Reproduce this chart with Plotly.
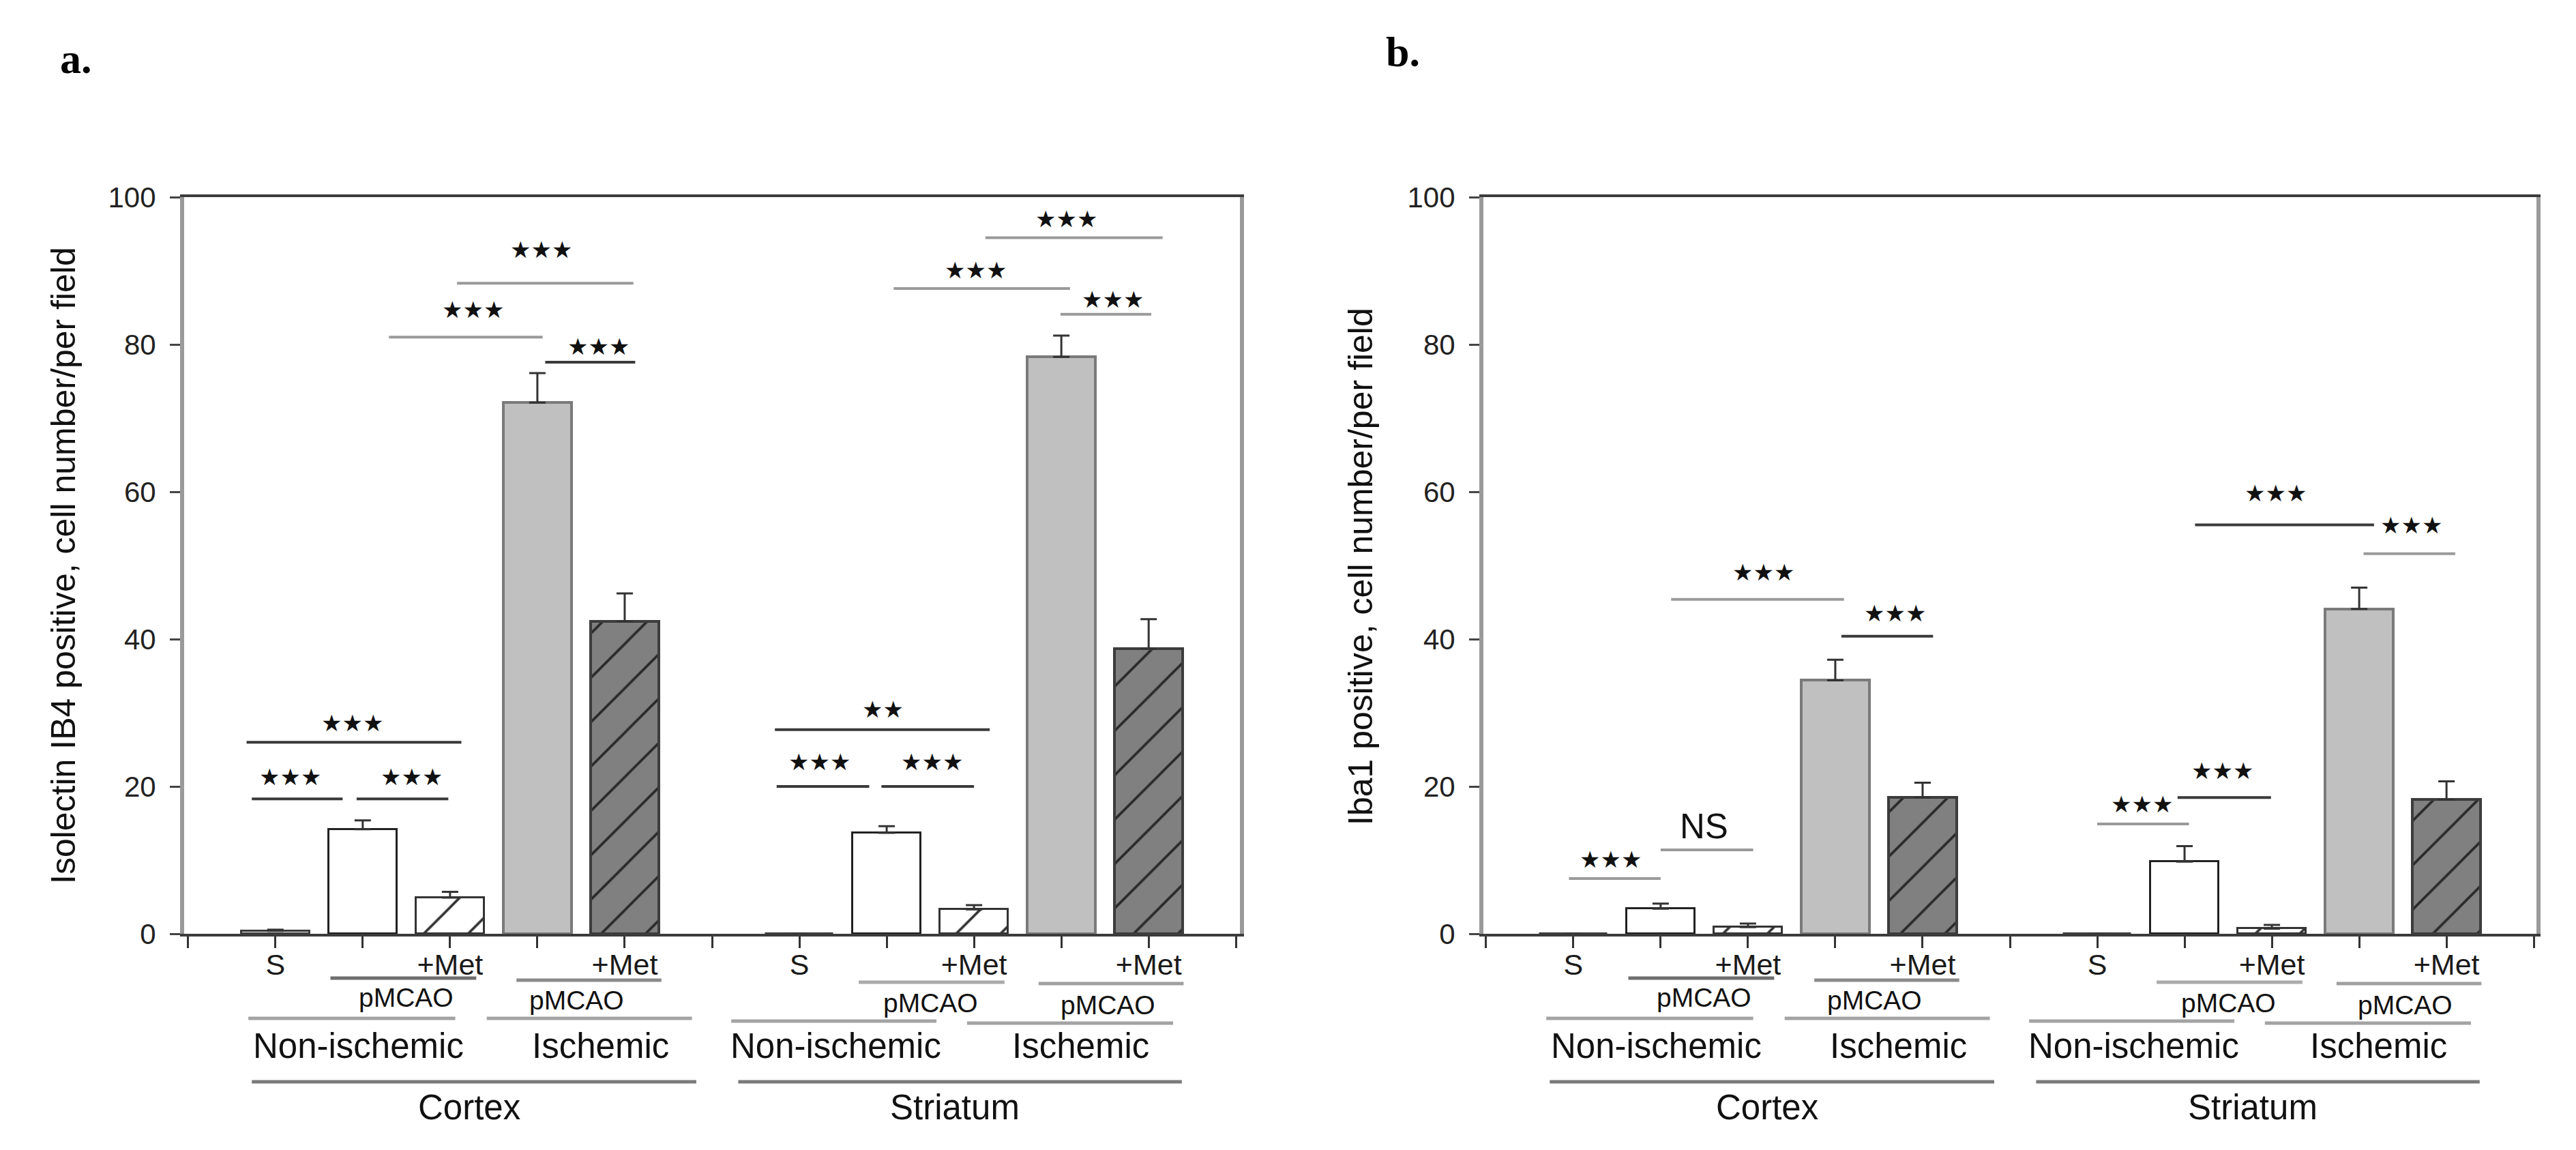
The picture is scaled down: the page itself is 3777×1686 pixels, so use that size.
import plotly.graph_objects as go

W, H = 3777, 1686
OFF = 8  # page offset of the rendered figure (body margin)

# ---------------- data ----------------
conditions = ["S", "pMCAO", "pMCAO+Met", "Ischemic pMCAO", "Ischemic pMCAO+Met"]
# x positions: cortex / striatum for each condition
cond_x = {
    "S": [0, 6],
    "pMCAO": [1, 7],
    "pMCAO+Met": [2, 8],
    "Ischemic pMCAO": [3, 9],
    "Ischemic pMCAO+Met": [4, 10],
}
# panel a: Isolectin IB4 (cortex, striatum)
ib4_mean = {
    "S": [0.4, 0.0],
    "pMCAO": [14.2, 13.7],
    "pMCAO+Met": [4.9, 3.3],
    "Ischemic pMCAO": [72.1, 78.3],
    "Ischemic pMCAO+Met": [42.4, 38.7],
}
ib4_sem = {
    "S": [0.15, 0.0],
    "pMCAO": [1.2, 0.9],
    "pMCAO+Met": [0.8, 0.6],
    "Ischemic pMCAO": [4.0, 2.9],
    "Ischemic pMCAO+Met": [3.8, 4.0],
}
# panel b: Iba1 (cortex, striatum)
iba1_mean = {
    "S": [0.0, 0.0],
    "pMCAO": [3.4, 9.8],
    "pMCAO+Met": [0.9, 0.7],
    "Ischemic pMCAO": [34.4, 44.1],
    "Ischemic pMCAO+Met": [18.5, 18.2],
}
iba1_sem = {
    "S": [0.0, 0.0],
    "pMCAO": [0.7, 2.1],
    "pMCAO+Met": [0.5, 0.5],
    "Ischemic pMCAO": [2.8, 2.9],
    "Ischemic pMCAO+Met": [2.0, 2.5],
}

tick_vals = list(range(-1, 12))
tick_text = ["", "S", "", "+Met", "", "+Met", "", "S", "", "+Met", "", "+Met", ""]

# significance brackets: (x0, x1, line_y, label, text_x, text_y, dark?)
ib4_brackets = [
    (-0.27, 0.77, 18.3, "***", 0.17, 21.3, True),
    (0.93, 1.98, 18.3, "***", 1.56, 21.3, True),
    (-0.33, 2.13, 26.0, "***", 0.88, 28.6, True),
    (1.30, 3.06, 81.0, "***", 2.26, 84.7, False),
    (2.08, 4.10, 88.3, "***", 3.04, 92.9, False),
    (3.09, 4.12, 77.6, "***", 3.70, 79.7, True),
    (5.74, 6.80, 20.0, "***", 6.23, 23.3, True),
    (6.94, 8.00, 20.0, "***", 7.52, 23.3, True),
    (5.72, 8.18, 27.7, "**", 6.96, 30.5, True),
    (7.08, 9.10, 87.6, "***", 8.02, 90.1, False),
    (8.13, 10.16, 94.5, "***", 9.06, 97.0, False),
    (8.99, 10.03, 84.1, "***", 9.59, 86.1, False),
]
iba1_brackets = [
    (-0.05, 1.00, 7.5, "***", 0.43, 10.1, False),
    (1.00, 2.06, 11.4, "NS", 1.50, 14.6, False),
    (1.12, 3.10, 45.4, "***", 2.18, 49.1, False),
    (3.07, 4.12, 40.4, "***", 3.68, 43.5, True),
    (6.00, 7.05, 14.9, "***", 6.51, 17.6, False),
    (6.92, 7.99, 18.5, "***", 7.43, 22.1, True),
    (7.12, 9.17, 55.5, "***", 8.04, 59.8, True),
    (9.05, 10.10, 51.6, "***", 9.60, 55.5, False),
]

# group labels below axis: (x0, x1, line_y_px, text, text_x, text_y_px, size, line colour)
group_lines = [
    (0.63, 2.30, 1434, "pMCAO", 1.50, 1462, 39, "#6e6e6e"),
    (2.76, 4.42, 1437, "pMCAO", 3.45, 1466, 39, "#8a8a8a"),
    (6.68, 8.35, 1440, "pMCAO", 7.50, 1470, 39, "#ababab"),
    (8.74, 10.40, 1442, "pMCAO", 9.53, 1473, 39, "#a0a0a0"),
    (-0.31, 2.06, 1493, "Non-ischemic", 0.95, 1533, 51, "#a3a3a3"),
    (2.42, 4.77, 1493, "Ischemic", 3.72, 1533, 51, "#a3a3a3"),
    (5.22, 7.57, 1497, "Non-ischemic", 6.42, 1533, 51, "#a3a3a3"),
    (7.92, 10.28, 1500, "Ischemic", 9.22, 1533, 51, "#a3a3a3"),
    (-0.27, 4.82, 1586, "Cortex", 2.22, 1623, 51, "#7a7a7a"),
    (5.30, 10.38, 1586, "Striatum", 7.78, 1623, 51, "#7a7a7a"),
]

styles = {
    "S": dict(color="#ffffff", line=dict(color="#3a3a3a", width=3)),
    "pMCAO": dict(color="#ffffff", line=dict(color="#222222", width=3)),
    "pMCAO+Met": dict(color="#ffffff", line=dict(color="#333333", width=3),
                      pattern=dict(shape="/", fgcolor="#333333", bgcolor="#ffffff",
                                   size=46, solidity=0.08)),
    "Ischemic pMCAO": dict(color="#c0c0c0", line=dict(color="#7a7a7a", width=4)),
    "Ischemic pMCAO+Met": dict(color="#808080", line=dict(color="#3c3c3c", width=4),
                               pattern=dict(shape="/", fgcolor="#2a2a2a", bgcolor="#808080",
                                            size=46, solidity=0.08)),
}


def px(xpx):
    return (xpx - OFF) / W


def py(ypx):
    return 1 - (ypx - OFF) / H


fig = go.Figure()

panels = [
    ("x", "y", ib4_mean, ib4_sem),
    ("x2", "y2", iba1_mean, iba1_sem),
]
for xa, ya, means, sems in panels:
    for c in conditions:
        fig.add_trace(go.Bar(
            x=cond_x[c], y=means[c], width=0.78,
            marker=styles[c], xaxis=xa, yaxis=ya, showlegend=False,
            error_y=dict(type="data", symmetric=False, array=sems[c],
                         arrayminus=[0] * len(sems[c]),
                         color="#333333", thickness=3, width=12),
        ))

axis_common_x = dict(
    tickmode="array", tickvals=tick_vals, ticktext=tick_text,
    ticks="outside", ticklen=17, tickwidth=3, tickcolor="#333333",
    showline=True, linecolor="#3c3c3c", linewidth=4, mirror=True,
    showgrid=False, zeroline=False, automargin=False,
    tickfont=dict(size=43, color="#1a1a1a", family="Liberation Sans"),
    ticklabelstandoff=-13,
)
axis_common_y = dict(
    range=[0, 100], tickmode="array", tickvals=[0, 20, 40, 60, 80, 100],
    ticks="outside", ticklen=15, tickwidth=3, tickcolor="#444444",
    showline=True, linecolor="#9a9a9a", linewidth=6, mirror=True,
    showgrid=False, zeroline=False, automargin=False,
    tickfont=dict(size=42, color="#222222", family="Liberation Sans"),
    ticklabelstandoff=12,
)
ydom = [py(1369), py(289)]

fig.update_layout(
    template="none",
    width=W, height=H, margin=dict(l=0, r=0, t=0, b=0, pad=0, autoexpand=False),
    paper_bgcolor="white", plot_bgcolor="white",
    barmode="overlay", bargap=0,
    font=dict(family="Liberation Sans", color="#111111"),
    xaxis=dict(domain=[px(270), px(1818)], range=[-1.045, 11.045], anchor="y", **axis_common_x),
    yaxis=dict(domain=ydom, anchor="x", **axis_common_y),
    xaxis2=dict(domain=[px(2175), px(3719)], range=[-1.03, 11.03], anchor="y2", **axis_common_x),
    yaxis2=dict(domain=ydom, anchor="x2", **axis_common_y),
)

shapes = []
annotations = []

# brackets
for xa, ya, brs in [("x", "y", ib4_brackets), ("x2", "y2", iba1_brackets)]:
    for x0, x1, yl, lab, tx, ty, dark in brs:
        shapes.append(dict(type="line", xref=xa, yref=ya, x0=x0, x1=x1, y0=yl, y1=yl,
                           line=dict(color="#3a3a3a" if dark else "#9a9a9a", width=4)))
        if lab == "NS":
            annotations.append(dict(xref=xa, yref=ya, x=tx, y=ty, text="NS", showarrow=False,
                                    font=dict(size=51, color="#111111", family="Liberation Sans"),
                                    xanchor="center", yanchor="middle"))
        else:
            annotations.append(dict(xref=xa, yref=ya, x=tx, y=ty, text="★" * len(lab),
                                    showarrow=False,
                                    font=dict(size=34, color="#111111", family="DejaVu Sans"),
                                    xanchor="center", yanchor="middle"))

# group lines and labels under the axes
for xa in ["x", "x2"]:
    for x0, x1, ly, txt, tx, ty, size, col in group_lines:
        shapes.append(dict(type="line", xref=xa, yref="paper", x0=x0, x1=x1, y0=py(ly), y1=py(ly),
                           line=dict(color=col, width=5)))
        annotations.append(dict(xref=xa, yref="paper", x=tx, y=py(ty), text=txt, showarrow=False,
                                font=dict(size=size, color="#111111", family="Liberation Sans"),
                                xanchor="center", yanchor="middle"))

# y-axis titles
annotations.append(dict(xref="paper", yref="paper", x=px(93), y=py(829),
                        text="Isolectin IB4 positive, cell number/per field",
                        textangle=-90, showarrow=False, xanchor="center", yanchor="middle",
                        font=dict(size=50, color="#111111", family="Liberation Sans")))
annotations.append(dict(xref="paper", yref="paper", x=px(1995), y=py(831),
                        text="Iba1 positive, cell number/per field",
                        textangle=-90, showarrow=False, xanchor="center", yanchor="middle",
                        font=dict(size=50, color="#111111", family="Liberation Sans")))

# panel letters
annotations.append(dict(xref="paper", yref="paper", x=px(86), y=py(86), text="<b>a.</b>",
                        showarrow=False, xanchor="left", yanchor="middle",
                        font=dict(size=62, color="#000000", family="Liberation Serif")))
annotations.append(dict(xref="paper", yref="paper", x=px(2030), y=py(76), text="<b>b.</b>",
                        showarrow=False, xanchor="left", yanchor="middle",
                        font=dict(size=62, color="#000000", family="Liberation Serif")))

fig.update_layout(shapes=shapes, annotations=annotations)
fig.write_html("out.html")
